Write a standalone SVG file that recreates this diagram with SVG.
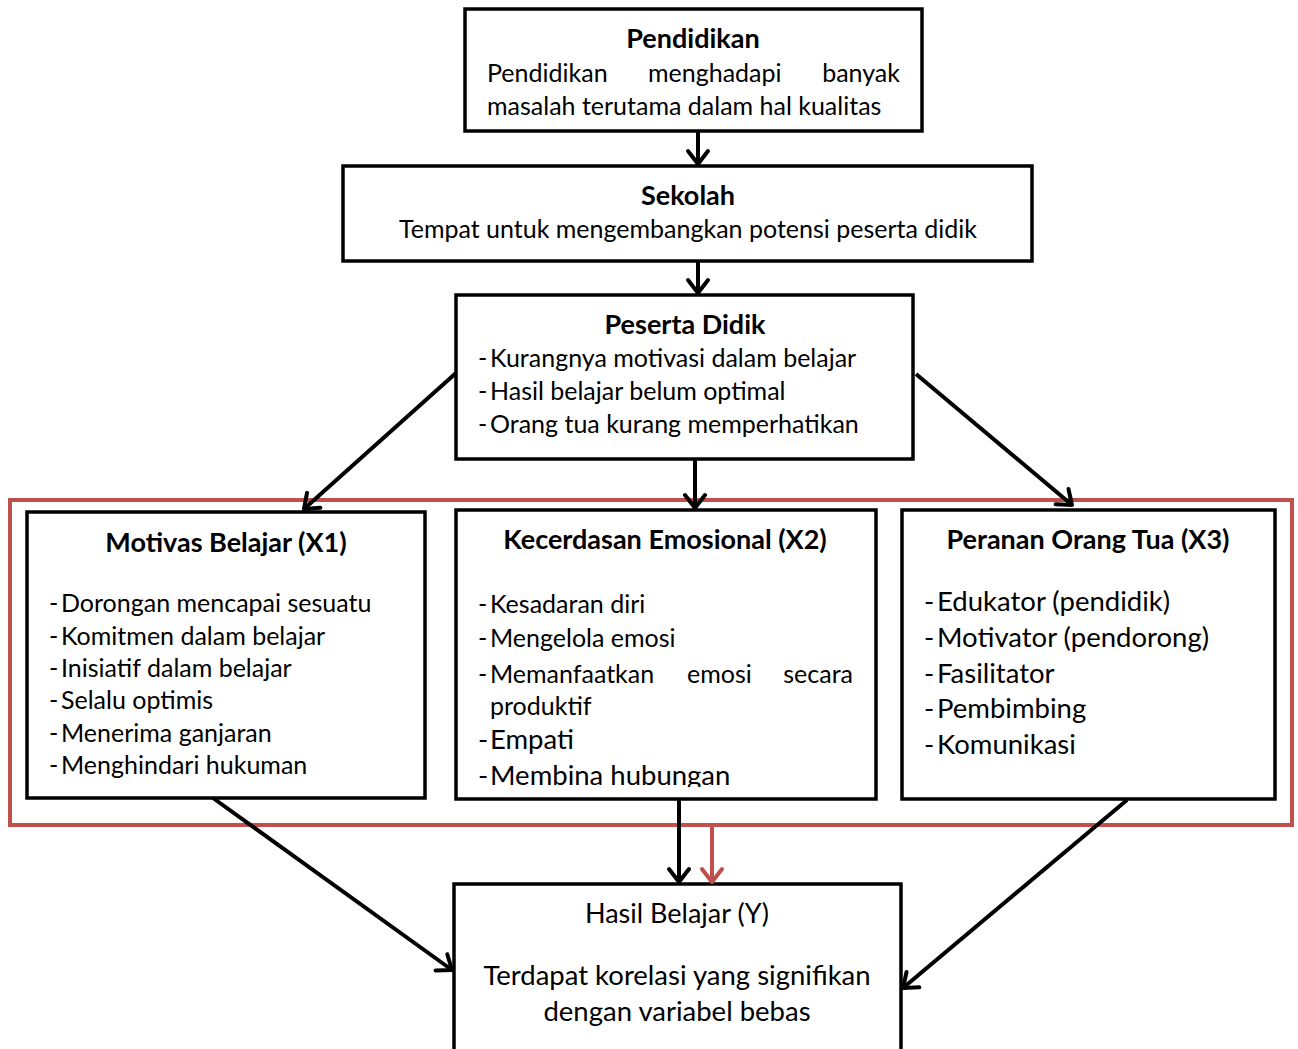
<svg xmlns="http://www.w3.org/2000/svg" width="1298" height="1049" viewBox="0 0 1298 1049">
<defs>
<style>
.box{fill:#fff;stroke:#000;stroke-width:3.5}
.t{font-family:Lato,"Liberation Sans",sans-serif;fill:#000;font-size:25px}
.b{font-weight:bold;font-size:27px}
.c{text-anchor:middle}
.lg{font-size:27.5px}
.ln{stroke:#000;stroke-width:4;fill:none}
.red{stroke:#C0504D;stroke-width:4;fill:none}
</style>
<marker id="ah" markerUnits="userSpaceOnUse" orient="auto" refX="0" refY="0" viewBox="-16 -13 18 26" markerWidth="18" markerHeight="26" overflow="visible">
<path d="M-13,-10 L0,0 L-13,10" fill="none" stroke="#000" stroke-width="4" stroke-linecap="round" stroke-linejoin="round"/>
</marker>
<marker id="ahr" markerUnits="userSpaceOnUse" orient="auto" refX="0" refY="0" viewBox="-16 -13 18 26" markerWidth="18" markerHeight="26" overflow="visible">
<path d="M-13,-10 L0,0 L-13,10" fill="none" stroke="#C0504D" stroke-width="4" stroke-linecap="round" stroke-linejoin="round"/>
</marker>
<clipPath id="clipx2"><rect x="456" y="510" width="420" height="277"/></clipPath>
</defs>
<rect width="1298" height="1049" fill="#fff"/>

<rect id="group-frame" x="10" y="500" width="1282" height="325" fill="none" stroke="#C0504D" stroke-width="4"/>

<g id="pendidikan">
<rect class="box" x="465" y="9" width="457" height="122"/>
<text class="t b c" x="693" y="48">Pendidikan</text>
<text class="t" x="487" y="82">Pendidikan</text>
<text class="t" x="648" y="82">menghadapi</text>
<text class="t" x="900" y="82" text-anchor="end">banyak</text>
<text class="t" x="487" y="115">masalah terutama dalam hal kualitas</text>
</g>

<g id="sekolah">
<rect class="box" x="343" y="166" width="689" height="95"/>
<text class="t b c" x="688" y="205">Sekolah</text>
<text class="t c" x="688" y="238">Tempat untuk mengembangkan potensi peserta didik</text>
</g>

<g id="peserta">
<rect class="box" x="456" y="295" width="457" height="164"/>
<text class="t b c" x="685" y="334">Peserta Didik</text>
<text class="t" x="478" y="367">-</text><text class="t" x="490" y="367">Kurangnya motivasi dalam belajar</text>
<text class="t" x="478" y="400">-</text><text class="t" x="490" y="400">Hasil belajar belum optimal</text>
<text class="t" x="478" y="433">-</text><text class="t" x="490" y="433">Orang tua kurang memperhatikan</text>
</g>

<g id="x1">
<rect class="box" x="27" y="512" width="398" height="286"/>
<text class="t b c" x="226" y="552">Motivas Belajar (X1)</text>
<text class="t" x="49" y="612">-</text><text class="t" x="61" y="612">Dorongan mencapai sesuatu</text>
<text class="t" x="49" y="645">-</text><text class="t" x="61" y="645">Komitmen dalam belajar</text>
<text class="t" x="49" y="677">-</text><text class="t" x="61" y="677">Inisiatif dalam belajar</text>
<text class="t" x="49" y="709">-</text><text class="t" x="61" y="709">Selalu optimis</text>
<text class="t" x="49" y="742">-</text><text class="t" x="61" y="742">Menerima ganjaran</text>
<text class="t" x="49" y="774">-</text><text class="t" x="61" y="774">Menghindari hukuman</text>
</g>

<g id="x2">
<rect class="box" x="456" y="510" width="420" height="289"/>
<text class="t b c" x="665" y="549">Kecerdasan Emosional (X2)</text>
<text class="t" x="478" y="613">-</text><text class="t" x="490" y="613">Kesadaran diri</text>
<text class="t" x="478" y="647">-</text><text class="t" x="490" y="647">Mengelola emosi</text>
<text class="t" x="478" y="683">-</text><text class="t" x="490" y="683">Memanfaatkan</text>
<text class="t" x="687" y="683">emosi</text>
<text class="t" x="853" y="683" text-anchor="end">secara</text>
<text class="t" x="490" y="715">produktif</text>
<text class="t lg" x="478" y="749">-</text><text class="t lg" x="490" y="749">Empati</text>
<g clip-path="url(#clipx2)">
<text class="t lg" x="478" y="785">-</text><text class="t lg" x="490" y="785">Membina hubungan</text>
</g>
</g>

<g id="x3">
<rect class="box" x="902" y="510" width="373" height="289"/>
<text class="t b c" x="1088" y="549">Peranan Orang Tua (X3)</text>
<text class="t lg" x="924" y="611">-</text><text class="t lg" x="937" y="611">Edukator (pendidik)</text>
<text class="t lg" x="924" y="647">-</text><text class="t lg" x="937" y="647">Motivator (pendorong)</text>
<text class="t lg" x="924" y="683">-</text><text class="t lg" x="937" y="683">Fasilitator</text>
<text class="t lg" x="924" y="718">-</text><text class="t lg" x="937" y="718">Pembimbing</text>
<text class="t lg" x="924" y="754">-</text><text class="t lg" x="937" y="754">Komunikasi</text>
</g>

<g id="hasil">
<rect class="box" x="454" y="884" width="447" height="180"/>
<text class="t c" x="677" y="923" style="font-size:27px">Hasil Belajar (Y)</text>
<text class="t c lg" x="677" y="985">Terdapat korelasi yang signifikan</text>
<text class="t c lg" x="677" y="1021">dengan variabel bebas</text>
</g>

<g id="connectors">
<line class="ln" x1="698" y1="131" x2="698" y2="164" marker-end="url(#ah)"/>
<line class="ln" x1="698" y1="261" x2="698" y2="293" marker-end="url(#ah)"/>
<line class="ln" x1="695" y1="459" x2="695" y2="508" marker-end="url(#ah)"/>
<line class="ln" x1="456" y1="373" x2="304" y2="509" marker-end="url(#ah)"/>
<line class="ln" x1="916" y1="374" x2="1072" y2="505" marker-end="url(#ah)"/>
<line class="ln" x1="213" y1="798" x2="452" y2="970" marker-end="url(#ah)"/>
<line class="ln" x1="1127" y1="800" x2="903" y2="988" marker-end="url(#ah)"/>
<line class="ln" x1="679" y1="799" x2="679" y2="882" marker-end="url(#ah)"/>
<line class="red" x1="712" y1="826" x2="712" y2="882" marker-end="url(#ahr)"/>
</g>
</svg>
